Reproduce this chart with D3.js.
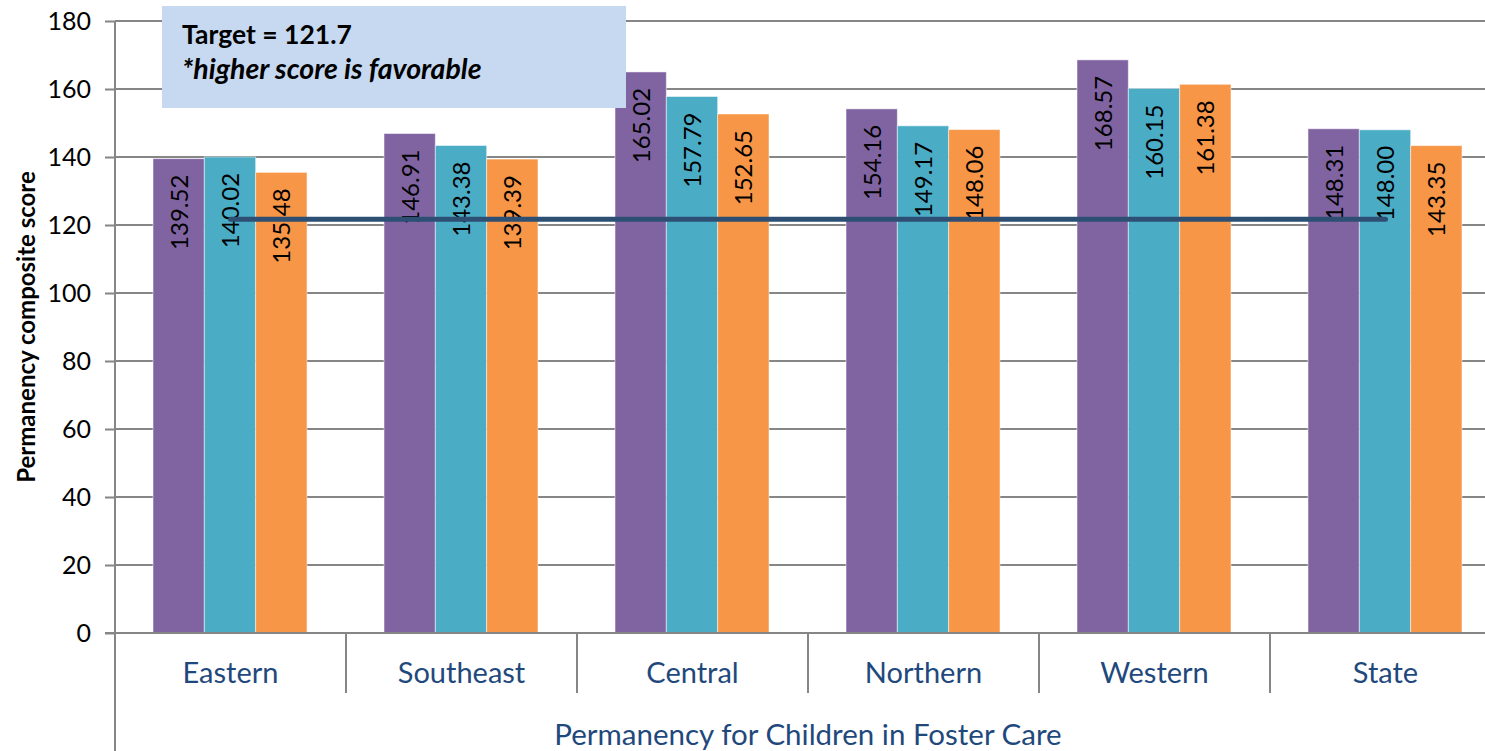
<!DOCTYPE html>
<html>
<head>
<meta charset="utf-8">
<script src="https://cdn.jsdelivr.net/npm/d3@7"></script>
<style>
  body { margin: 0; background: #fff; }
  svg { display: block; font-family: Lato, "Open Sans", sans-serif; }
</style>
</head>
<body>
<div id="chart"></div>
<script>
// data
const regions = ["Eastern", "Southeast", "Central", "Northern", "Western", "State"];
const seriesNames = ["s1", "s2", "s3"];
const series1 = [139.52, 146.91, 165.02, 154.16, 168.57, 148.31];
const series2 = [140.02, 143.38, 157.79, 149.17, 160.15, 148.00];
const series3 = [135.48, 139.39, 152.65, 148.06, 161.38, 143.35];
const yTicks = [0, 20, 40, 60, 80, 100, 120, 140, 160, 180];
const target = 121.7;

const W = 1485, H = 751;
const margin = { top: 21, left: 115, bottom: 118 };
const plotW = 231 * 6;           // last category runs past the window edge
const plotH = H - margin.top - margin.bottom;

const svg = d3.select("#chart").append("svg")
    .attr("width", W)
    .attr("height", H);

const g = svg.append("g")
    .attr("transform", `translate(${margin.left},${margin.top})`);

const x = d3.scaleBand()
    .domain(regions)
    .range([0, plotW])
    .paddingInner(0)
    .paddingOuter(0);

const xSub = d3.scaleBand()
    .domain(seriesNames)
    .range([38, x.bandwidth() - 39]);

const y = d3.scaleLinear()
    .domain([0, 180])
    .range([plotH, 0]);

const color = d3.scaleOrdinal()
    .domain(seriesNames)
    .range(["#8064a2", "#4bacc6", "#f79646"]);

// gridlines + y axis
const yAxis = g.append("g")
    .call(d3.axisLeft(y).tickValues(yTicks).tickSize(10).tickPadding(14));
yAxis.select(".domain").remove();
yAxis.selectAll(".tick line").attr("stroke", "#868686").attr("stroke-width", 2);
yAxis.selectAll(".tick text")
    .attr("font-size", 25)
    .attr("fill", "#000")
    .attr("font-family", "Lato, sans-serif");

g.append("g")
    .selectAll("line")
    .data(yTicks.filter(d => d > 0))
    .join("line")
    .attr("x1", 0).attr("x2", W)
    .attr("y1", d => y(d)).attr("y2", d => y(d))
    .attr("stroke", "#868686")
    .attr("stroke-width", 2);

// bars
const data = regions.map((r, i) => ({ region: r, values: [series1[i], series2[i], series3[i]] }));

const groups = g.selectAll("g.region")
    .data(data)
    .join("g")
    .attr("class", "region")
    .attr("transform", d => `translate(${x(d.region)},0)`);

const cells = groups.selectAll("g.bar")
    .data(d => d.values.map((v, j) => ({ key: seriesNames[j], value: v })))
    .join("g")
    .attr("class", "bar");

cells.append("rect")
    .attr("x", d => xSub(d.key))
    .attr("y", d => y(d.value))
    .attr("width", xSub.bandwidth())
    .attr("height", d => plotH - y(d.value))
    .attr("fill", d => color(d.key))
    .attr("stroke", "rgba(255,255,255,0.5)")
    .attr("stroke-width", 1);

// target line, centre of first to centre of last category
g.append("line")
    .attr("x1", x(regions[0]) + x.bandwidth() / 2)
    .attr("x2", x(regions[regions.length - 1]) + x.bandwidth() / 2)
    .attr("y1", y(target))
    .attr("y2", y(target))
    .attr("stroke", "#2d4f73")
    .attr("stroke-width", 5)
    .attr("stroke-linecap", "round");

// value labels, rotated, inside the top of the bar
cells.append("text")
    .attr("transform", d => `translate(${xSub(d.key) + xSub.bandwidth() / 2 + 9},${y(d.value) + 16}) rotate(-90)`)
    .attr("text-anchor", "end")
    .attr("font-size", 24)
    .attr("fill", "#000")
    .text(d => d.value.toFixed(2));

// x axis baseline and category separators
g.append("line")
    .attr("x1", -10).attr("x2", W)
    .attr("y1", plotH).attr("y2", plotH)
    .attr("stroke", "#868686").attr("stroke-width", 2);

g.append("g")
    .selectAll("line")
    .data(regions.slice(1))
    .join("line")
    .attr("x1", d => x(d)).attr("x2", d => x(d))
    .attr("y1", plotH).attr("y2", plotH + 60)
    .attr("stroke", "#868686").attr("stroke-width", 2);

// y axis line runs down through the category levels
g.append("line")
    .attr("x1", 0).attr("x2", 0)
    .attr("y1", 0).attr("y2", H)
    .attr("stroke", "#868686").attr("stroke-width", 2);

g.append("g")
    .selectAll("text")
    .data(regions)
    .join("text")
    .attr("x", d => x(d) + x.bandwidth() / 2)
    .attr("y", plotH + 50)
    .attr("text-anchor", "middle")
    .attr("font-size", 29)
    .attr("fill", "#1f497d")
    .text(d => d);

svg.append("text")
    .attr("x", 808)
    .attr("y", 745)
    .attr("text-anchor", "middle")
    .attr("font-size", 29.5)
    .attr("fill", "#1f497d")
    .text("Permanency for Children in Foster Care");

svg.append("text")
    .attr("transform", `translate(35,${margin.top + plotH / 2}) rotate(-90)`)
    .attr("text-anchor", "middle")
    .attr("font-size", 24)
    .attr("font-weight", "bold")
    .attr("fill", "#000")
    .text("Permanency composite score");

// note box
svg.append("rect")
    .attr("x", 162).attr("y", 6)
    .attr("width", 464).attr("height", 102)
    .attr("fill", "#c6d9f1");

svg.append("text")
    .attr("x", 182).attr("y", 44)
    .attr("font-size", 26.5)
    .attr("font-weight", "bold")
    .attr("fill", "#000")
    .text("Target = 121.7");

svg.append("text")
    .attr("x", 182).attr("y", 79)
    .attr("font-size", 28.5)
    .attr("font-weight", "bold")
    .attr("font-style", "italic")
    .attr("fill", "#000")
    .text("*higher score is favorable");
</script>
</body>
</html>
